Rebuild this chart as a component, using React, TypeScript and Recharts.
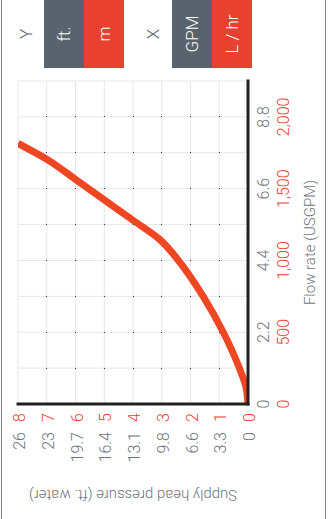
import { ComposedChart, Line, Scatter, XAxis, YAxis, CartesianGrid } from 'recharts';

// flow rate (L/hr) vs supply head (m)
const flowLhr = [0, 125, 250, 500, 750, 1000, 1146, 1280, 1422, 1565, 1705, 1815];
const headM = [0, 0.08, 0.3, 0.86, 1.56, 2.42, 3.07, 4, 5, 6, 7, 8];

// axis ticks
const flowGrid = [0, 250, 500, 750, 1000, 1250, 1500, 1750, 2000, 2250];
const flowTicksLhr = [0, 500, 1000, 1500, 2000];
const flowLabelsLhr = ['0', '500', '1,000', '1,500', '2,000'];
const flowLabelsGpm = ['0', '2.2', '4.4', '6.6', '8.8'];
const headTicksM = [0, 1, 2, 3, 4, 5, 6, 7, 8];
const headLabelsFt = ['0', '3.3', '6.6', '9.8', '13.1', '16.4', '19.7', '23', '26'];

const RED = '#e8412f';
const LINE = '#ef4723';
const GRAY = '#6b747c';
const BTN_GRAY = '#58636d';
const FONT = 'Roboto, sans-serif';

const curve = flowLhr.map((lhr, i) => ({ lhr, m: headM[i] }));
const gridDots = flowGrid
  .filter((f) => f > 0 && f < 2250)
  .flatMap((lhr) => headTicksM.filter((h) => h > 0 && h < 8).map((m) => ({ lhr, m })));

function FlowTick(props: any) {
  const { x, y, payload } = props;
  const i = flowTicksLhr.indexOf(payload.value);
  if (i < 0) return <g />;
  return (
    <g fontFamily={FONT} fontWeight={300} fontSize={16}>
      <text x={x} y={y + 15} textAnchor="middle" dominantBaseline="central" fill={GRAY}>{flowLabelsGpm[i]}</text>
      <text x={x} y={y + 35} textAnchor="middle" dominantBaseline="central" fill={RED}>{flowLabelsLhr[i]}</text>
    </g>
  );
}

function HeadTick(props: any) {
  const { x, y, payload } = props;
  const i = headTicksM.indexOf(payload.value);
  return (
    <g fontFamily={FONT} fontWeight={300} fontSize={16}>
      <text x={x - 9} y={y + 1.5} textAnchor="end" dominantBaseline="central" fill={RED}>{headTicksM[i]}</text>
      <text x={x - 28} y={y + 1.5} textAnchor="end" dominantBaseline="central" fill={GRAY}>{headLabelsFt[i]}</text>
    </g>
  );
}

function Toggle({ top, label, bg }: { top: number; label: string; bg: string }) {
  return (
    <div style={{ position: 'absolute', left: 451, top, width: 68, height: 40, background: bg, color: '#fff', fontSize: 17, fontWeight: 300, display: 'flex', alignItems: 'center', justifyContent: 'center' }}>
      {label}
    </div>
  );
}

function Letter({ top, label }: { top: number; label: string }) {
  return (
    <div style={{ position: 'absolute', left: 451, top, width: 68, height: 40, color: BTN_GRAY, fontSize: 17, fontWeight: 300, display: 'flex', alignItems: 'center', justifyContent: 'center' }}>
      {label}
    </div>
  );
}

export default function App() {
  return (
    <div style={{ position: 'fixed', left: 0, top: 0, width: 328, height: 519, overflow: 'hidden', background: '#fff' }}>
      <div style={{ position: 'absolute', left: 0, top: 0, width: 519, height: 328, transformOrigin: '0 0', transform: 'translate(0px, 519px) rotate(-90deg)', fontFamily: FONT }}>
        <div style={{ position: 'absolute', left: 0, top: 1, width: 519, height: 1, background: '#7d8489' }} />
        <div style={{ position: 'absolute', left: 0, top: 325, width: 519, height: 1, background: '#7d8489' }} />
        <Letter top={6} label="Y" />
        <Toggle top={44} label="ft." bg={BTN_GRAY} />
        <Toggle top={84} label="m" bg={RED} />
        <Letter top={133} label="X" />
        <Toggle top={172} label="GPM" bg={BTN_GRAY} />
        <Toggle top={212} label="L / hr" bg={RED} />
        <ComposedChart width={519} height={328} margin={{ top: 18, right: 81, bottom: 0, left: 0 }}>
          <CartesianGrid stroke="#e6e6e6" strokeWidth={1} />
          <XAxis
            type="number"
            dataKey="lhr"
            domain={[0, 2250]}
            ticks={flowGrid}
            interval={0}
            allowDataOverflow
            height={80}
            tickSize={0}
            tickMargin={0}
            tickLine={false}
            tick={<FlowTick />}
            axisLine={{ stroke: '#222', strokeWidth: 3, strokeLinecap: 'square' }}
            label={{ value: 'Flow rate (USGPM)', position: 'insideBottom', offset: 13, fill: GRAY, fontSize: 15, fontWeight: 300, fontFamily: FONT }}
          />
          <YAxis
            type="number"
            domain={[0, 8]}
            ticks={headTicksM}
            interval={0}
            allowDataOverflow
            width={115}
            tickSize={0}
            tickMargin={0}
            tickLine={false}
            tick={<HeadTick />}
            axisLine={{ stroke: '#222', strokeWidth: 3, strokeLinecap: 'square' }}
            label={{ value: 'Supply head pressure (ft. water)', angle: -90, position: 'insideLeft', offset: 24, fill: GRAY, fontSize: 15, fontWeight: 300, fontFamily: FONT, style: { textAnchor: 'middle' } }}
          />
          <Scatter
            data={gridDots}
            dataKey="m"
            isAnimationActive={false}
            shape={(p: any) => <rect x={Math.round(p.cx - 0.5)} y={Math.round(p.cy - 0.5)} width={1} height={1} fill="#333" />}
          />
          <Line
            data={curve}
            dataKey="m"
            type="monotone"
            stroke={LINE}
            strokeWidth={7}
            dot={false}
            activeDot={false}
            isAnimationActive={false}
          />
        </ComposedChart>
      </div>
    </div>
  );
}
